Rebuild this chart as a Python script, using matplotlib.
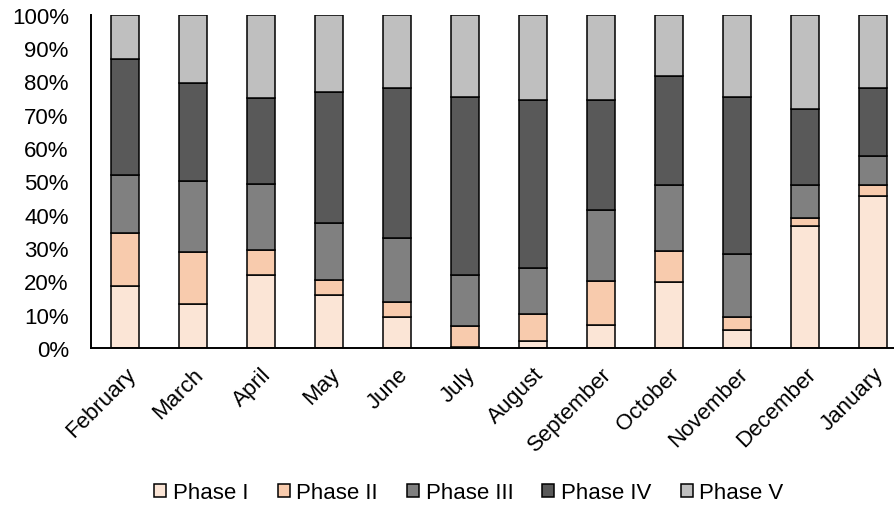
import numpy as np
import matplotlib.pyplot as plt

plt.rcParams['font.family'] = ['Liberation Sans', 'DejaVu Sans']

months = ["February", "March", "April", "May", "June", "July", "August",
          "September", "October", "November", "December", "January"]

# segment heights (percent)
phase1 = [18.5, 13.2, 21.9, 15.9, 9.4, 0.3, 2.0, 6.9, 19.9, 5.4, 36.7, 45.7]
phase2 = [15.9, 15.7, 7.6, 4.6, 4.5, 6.4, 8.2, 13.1, 9.3, 4.0, 2.3, 3.3]
phase3 = [17.6, 21.3, 19.7, 16.9, 19.1, 15.2, 13.9, 21.5, 19.7, 18.8, 9.9, 8.5]
phase4 = [34.7, 29.3, 25.8, 39.5, 44.9, 53.3, 50.4, 32.9, 32.6, 47.2, 22.8, 20.4]
phase5 = [13.3, 20.5, 25.0, 23.1, 22.1, 24.8, 25.5, 25.6, 18.5, 24.6, 28.3, 22.1]

phases = ["Phase I", "Phase II", "Phase III", "Phase IV", "Phase V"]
colors = ["#FBE5D6", "#F8CBAD", "#808080", "#595959", "#BFBFBF"]

fig = plt.figure(figsize=(8.95, 5.06), dpi=100)
ax = fig.add_axes([91 / 895, 1 - 349 / 506, 12 * 68 / 895, (349 - 15.7) / 506])

x = np.arange(len(months))
bottom = np.zeros(len(months))
for name, vals, col in zip(phases, [phase1, phase2, phase3, phase4, phase5], colors):
    ax.bar(x, vals, 0.41, bottom=bottom, color=col, edgecolor="black",
           linewidth=1.1, label=name)
    bottom += np.array(vals)

ax.set_xlim(-0.5, len(months) - 0.5)
ax.set_ylim(0, 100)
ax.set_yticks(np.arange(0, 101, 10))
ax.set_yticklabels([f"{v}%" for v in range(0, 101, 10)], fontsize=16)
ax.set_xticks(x)
ax.set_xticklabels(months, rotation=45, ha="right", rotation_mode="anchor", fontsize=16)
ax.tick_params(length=0)
ax.tick_params(axis="x", pad=11)
ax.tick_params(axis="y", pad=16)
for s in ["top", "right"]:
    ax.spines[s].set_visible(False)
ax.spines["left"].set_linewidth(1.4)
ax.spines["bottom"].set_linewidth(1.4)

handles, labels = ax.get_legend_handles_labels()
fig.legend(handles, labels, loc="center", bbox_to_anchor=(469 / 895, 1 - 494 / 506),
           ncol=5, frameon=False, fontsize=16, handlelength=0.54, handleheight=0.54,
           handletextpad=0.31, columnspacing=1.3, borderpad=0)

fig.savefig("out.png", dpi=100)
